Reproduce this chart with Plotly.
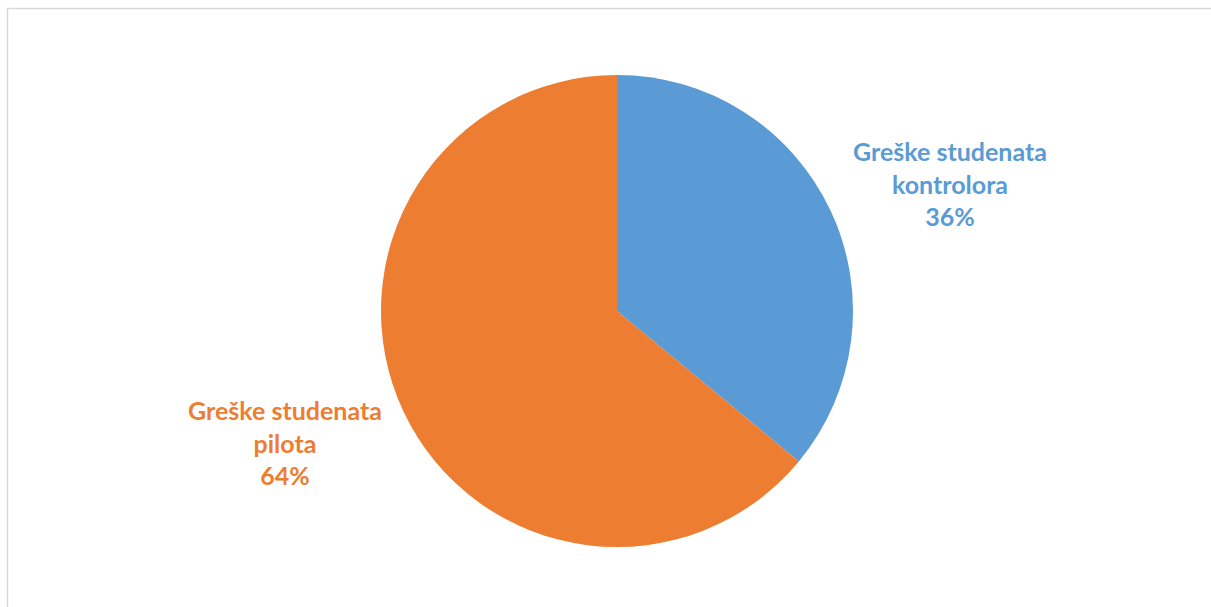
import plotly.graph_objects as go

# Share of errors by student group (percent)
categories = ["Greške studenata<br>kontrolora", "Greške studenata<br>pilota"]
values = [36, 64]
colors = ["#5B9BD5", "#ED7D31"]

W, H = 1211, 607
cx, cy, r = 617, 311, 236  # pie centre and radius in pixels

fig = go.Figure(
    go.Pie(
        labels=categories,
        values=values,
        sort=False,
        direction="clockwise",
        rotation=0,
        marker=dict(colors=colors, line=dict(width=0)),
        textinfo="none",
        hoverinfo="label+percent",
        showlegend=False,
        domain=dict(
            x=[(cx - r) / W, (cx + r) / W],
            y=[(H - cy - r) / H, (H - cy + r) / H],
        ),
    )
)

# Category labels with percentages, placed beside their slices
label_pos = [(950, 184), (285, 442)]
total = sum(values)
for name, v, c, (lx, ly) in zip(categories, values, colors, label_pos):
    fig.add_annotation(
        x=lx / W,
        y=1 - ly / H,
        xref="paper",
        yref="paper",
        text=f"<b>{name}<br>{round(100 * v / total)}%</b>",
        showarrow=False,
        align="center",
        xanchor="center",
        yanchor="middle",
        font=dict(family="Lato, Open Sans, sans-serif", size=25, color=c),
    )

# Thin chart-area frame (top and left edges visible)
fig.add_shape(
    type="rect",
    xref="paper",
    yref="paper",
    x0=7.5 / W,
    y0=-0.05,
    x1=1.05,
    y1=1 - 8.5 / H,
    line=dict(color="#D9D9D9", width=1.5),
    fillcolor="rgba(0,0,0,0)",
)

fig.update_layout(
    width=W,
    height=H,
    margin=dict(l=0, r=0, t=0, b=0),
    paper_bgcolor="white",
    plot_bgcolor="white",
)

fig.write_html("out.html")
